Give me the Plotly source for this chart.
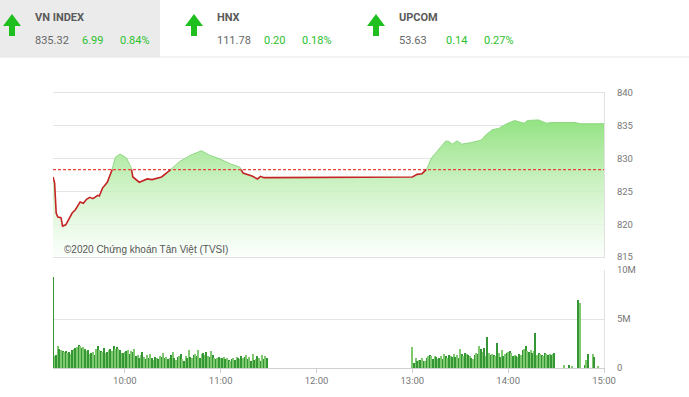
import pandas as pd
import plotly.graph_objects as go

# ---------------- data ----------------
DAY = "2020-05-20 "
REF = 828.33  # previous close

price_times = ["09:15", "09:16", "09:17", "09:18", "09:20", "09:21", "09:23", "09:25", "09:27", "09:29",
               "09:32", "09:34", "09:36", "09:38", "09:40", "09:43", "09:44", "09:46",
               "09:49", "09:52", "09:54", "09:57", "10:01", "10:04", "10:05", "10:09", "10:14", "10:17", "10:20",
               "10:23", "10:26", "10:30", "10:34", "10:41", "10:48", "10:53", "10:59", "11:06", "11:12", "11:14",
               "11:20", "11:23", "11:25", "11:27", "11:30", "13:00", "13:03", "13:06", "13:09", "13:12", "13:15",
               "13:18", "13:21", "13:23", "13:25", "13:28", "13:31", "13:36", "13:40", "13:43", "13:46",
               "13:50", "13:54", "13:59", "14:04", "14:07", "14:10", "14:12", "14:19", "14:24", "14:27",
               "14:42", "14:45", "15:00"]
price_values = [827.2, 826.3, 821.7, 821.1, 821.0, 819.7, 819.9, 820.8, 821.7, 822.2,
                823.4, 823.2, 823.8, 824.1, 823.9, 824.4, 824.3, 825.5,
                826.4, 828.3, 830.2, 830.7, 830.1, 828.6, 827.2, 826.4, 826.9, 826.8, 827.0,
                827.2, 827.8, 828.6, 829.5, 830.5, 831.2, 830.5, 830.0, 829.2, 828.7, 827.8,
                827.3, 826.9, 827.3, 827.1, 827.1, 827.2, 827.6, 827.7, 828.4, 830.1, 831.0,
                831.8, 832.7, 832.6, 832.2, 832.7, 832.2, 832.4, 832.6, 832.8, 833.6,
                834.4, 834.6, 835.3, 835.8, 835.6, 835.4, 835.8, 835.9, 835.4, 835.5,
                835.5, 835.32, 835.32]

# morning volume, one bar per minute from 09:15 (millions of shares)
vol_morning = [9.3, 1.2, 1.3, 2.2, 1.9, 1.8, 1.7, 1.6, 1.7, 1.5,
               1.6, 1.4, 1.8, 1.9, 2.0, 2.1, 2.3, 2.2, 2.0, 2.1,
               1.9, 1.7, 1.8, 1.4, 1.5, 1.6, 1.3, 1.9, 2.2, 1.8,
               1.7, 1.6, 2.0, 1.5, 1.6, 1.8, 1.9, 1.7, 2.2, 1.9,
               2.1, 1.9, 1.8, 1.5, 1.5, 1.6, 1.7, 1.8, 1.4, 1.7,
               1.6, 1.9, 1.2, 1.3, 1.0, 1.3, 1.6, 1.1, 0.9, 1.3,
               1.0, 1.4, 1.0, 0.8, 1.1, 1.0, 0.9, 1.2, 1.1, 1.5,
               1.0, 1.1, 0.9, 1.0, 1.3, 1.6, 1.0, 0.8, 1.1, 1.2,
               1.4, 0.9, 0.7, 1.2, 1.0, 1.8, 1.1, 1.0, 1.3, 1.4,
               1.2, 1.8, 1.0, 1.4, 1.5, 1.3, 1.6, 1.2, 1.1, 1.7,
               1.3, 1.0, 0.9, 1.0, 1.1, 1.0, 1.0, 1.1, 0.9, 1.0,
               0.8, 0.7, 0.9, 1.0, 0.8, 1.1, 1.0, 0.9, 1.2, 1.0,
               1.1, 1.3, 0.9, 1.1, 0.7, 1.4, 0.8, 0.9, 1.2, 1.0,
               0.7, 1.3, 0.9, 1.2, 1.0]
# afternoon volume, one bar per minute from 13:00
vol_afternoon = [2.1, 0.5, 1.0, 0.7, 0.8, 0.8, 1.0, 0.7, 0.7, 1.0,
                 1.2, 1.3, 1.2, 0.9, 1.2, 1.1, 0.9, 1.0, 1.2, 0.9,
                 1.4, 1.2, 1.0, 1.3, 1.2, 1.1, 1.4, 1.1, 1.3, 1.0,
                 1.9, 1.4, 1.2, 1.5, 1.4, 1.3, 1.2, 1.0, 0.9, 1.3,
                 1.5, 1.4, 2.2, 1.9, 1.6, 2.0, 1.2, 3.2, 1.5, 1.3,
                 1.4, 1.3, 1.2, 2.6, 1.5, 1.1, 1.8, 1.2, 1.4, 1.5,
                 1.6, 1.7, 1.5, 1.2, 1.3, 1.2, 1.1, 1.4, 1.3, 1.8,
                 1.9, 2.2, 1.7, 1.6, 1.8, 1.5, 1.7, 3.6, 1.3, 1.5,
                 1.4, 1.3, 1.2, 1.5, 1.4, 1.3, 1.4, 1.3, 1.4, 1.5]
# closing session (sparse)
vol_close_times = ["14:35", "14:38", "14:40", "14:44", "14:45", "14:48", "14:49", "14:50", "14:53", "14:54", "14:56"]
vol_close_values = [0.3, 0.3, 0.2, 6.9, 6.6, 0.3, 0.8, 1.4, 1.4, 1.1, 0.2]

x_ticks = ["10:00", "11:00", "12:00", "13:00", "14:00", "15:00"]
y_price_ticks = [815, 820, 825, 830, 835, 840]
y_vol_ticks = [0, 5, 10]
y_vol_labels = ["0", "5M", "10M"]

header = [
    ("VN INDEX", "835.32", "6.99", "0.84%"),
    ("HNX", "111.78", "0.20", "0.18%"),
    ("UPCOM", "53.63", "0.14", "0.27%"),
]

# ---------------- prep ----------------
def T(s):
    return pd.Timestamp(DAY + s)

pt = [T(s) for s in price_times]
# insert crossing points with the reference level so the line can change colour there
xs, ys = [pt[0]], [price_values[0]]
for i in range(1, len(pt)):
    p0, p1 = price_values[i - 1], price_values[i]
    if (p0 - REF) * (p1 - REF) < 0:
        f = (REF - p0) / (p1 - p0)
        xs.append(pt[i - 1] + (pt[i] - pt[i - 1]) * f)
        ys.append(REF)
    xs.append(pt[i])
    ys.append(price_values[i])
below = [y if y <= REF + 1e-9 else None for y in ys]
above = [y if y >= REF - 1e-9 else None for y in ys]

vt = list(pd.date_range(T("09:15"), periods=len(vol_morning), freq="min")) + \
     list(pd.date_range(T("13:00"), periods=len(vol_afternoon), freq="min")) + \
     [T(s) for s in vol_close_times]
vv = [v * 1e6 for v in vol_morning + vol_afternoon + vol_close_values]
bar_colors = ["#349634" if i % 2 == 0 else "#7ec970" for i in range(len(vv))]

# ---------------- figure ----------------
W, H = 689, 397
L, R, TOP, BOT = 53, 604, 93, 368
def px(x):
    return (x - L) / (R - L)
def py(y):
    return (BOT - y) / (BOT - TOP)

fig = go.Figure()
fig.add_trace(go.Scatter(
    x=xs, y=ys, mode="lines", line=dict(width=0), fill="tozeroy",
    fillgradient=dict(type="vertical", start=815, stop=837,
                      colorscale=[[0, "rgba(250,255,250,0.7)"], [0.5, "rgba(198,240,188,0.88)"],
                                  [1, "rgba(136,224,118,0.97)"]]),
    hoverinfo="skip", showlegend=False, xaxis="x", yaxis="y"))
fig.add_trace(go.Scatter(x=[T("09:15"), T("15:00")], y=[REF, REF], mode="lines",
                         line=dict(color="#e8423a", width=1.2, dash="3px,2px"),
                         showlegend=False, xaxis="x", yaxis="y"))
fig.add_trace(go.Scatter(x=xs, y=above, mode="lines", line=dict(color="#8fd882", width=1),
                         connectgaps=False, showlegend=False, xaxis="x", yaxis="y"))
fig.add_trace(go.Scatter(x=xs, y=below, mode="lines", line=dict(color="#c42424", width=1.6),
                         connectgaps=False, showlegend=False, xaxis="x", yaxis="y"))
fig.add_trace(go.Bar(x=vt, y=vv, width=60000 * 0.65, marker=dict(color=bar_colors, line=dict(width=0)),
                     showlegend=False, xaxis="x2", yaxis="y2"))

xr = [T("09:15"), T("15:00")]
tickfont = dict(family="Roboto, Liberation Sans, sans-serif", size=9.5, color="#777")
fig.update_layout(
    width=W, height=H, autosize=False,
    margin=dict(l=L, r=W - R, t=TOP, b=H - BOT),
    paper_bgcolor="white", plot_bgcolor="white",
    bargap=0,
    xaxis=dict(domain=[0, 1], anchor="y", range=xr, showticklabels=False, showgrid=False,
               showline=True, mirror=True, linecolor="#e2e2e2", zeroline=False, ticks=""),
    yaxis=dict(domain=[py(257), 1], side="right", range=[815, 840], tickvals=y_price_ticks,
               showgrid=True, gridcolor="#e4e4e4", zeroline=False, showline=True, linecolor="#e2e2e2",
               ticks="outside", ticklen=10, tickcolor="rgba(0,0,0,0)", tickfont=tickfont),
    xaxis2=dict(domain=[0, 1], anchor="y2", range=xr, tickvals=[T(s) for s in x_ticks], ticktext=x_ticks,
                showgrid=False, showline=True, linecolor="#d0d0d0", zeroline=False,
                ticks="outside", ticklen=4, tickcolor="#d0d0d0", tickfont=tickfont),
    yaxis2=dict(domain=[0, py(270)], side="right", range=[0, 10e6],
                tickvals=[v * 1e6 for v in y_vol_ticks], ticktext=y_vol_labels,
                showgrid=True, gridcolor="#e4e4e4", zeroline=False, showline=True, linecolor="#e2e2e2",
                ticks="outside", ticklen=10, tickcolor="rgba(0,0,0,0)", tickfont=tickfont),
)

# header
shapes = [
    dict(type="rect", xref="paper", yref="paper", x0=px(0), x1=px(160), y0=py(57), y1=py(0),
         fillcolor="#ebebeb", line=dict(width=0), layer="below"),
    dict(type="line", xref="paper", yref="paper", x0=px(0), x1=px(689), y0=py(57), y1=py(57),
         line=dict(color="#e6e6e6", width=1)),
]
hfont = "Roboto, Liberation Sans, sans-serif"
annos = []
for k, (name, val, chg, pct) in enumerate(header):
    ox = [0, 182, 364][k]
    ax = ox + 12
    pts = [(ax - 9, 26), (ax, 14), (ax + 9, 26), (ax + 3, 26), (ax + 3, 36), (ax - 3, 36), (ax - 3, 26)]
    path = "M " + " L ".join(f"{px(a)},{py(b)}" for a, b in pts) + " Z"
    shapes.append(dict(type="path", xref="paper", yref="paper", path=path,
                       fillcolor="#1fbf1f", line=dict(width=0)))
    annos.append(dict(text=f"<b>{name}</b>", x=px(ox + 33), y=py(17), xref="paper", yref="paper",
                      xanchor="left", yanchor="middle", showarrow=False,
                      font=dict(family=hfont, size=11, color="#5a5a5a")))
    annos.append(dict(text=val, x=px(ox + 33), y=py(41), xref="paper", yref="paper",
                      xanchor="left", yanchor="middle", showarrow=False,
                      font=dict(family=hfont, size=11, color="#666")))
    annos.append(dict(text=chg, x=px(ox + 80), y=py(41), xref="paper", yref="paper",
                      xanchor="left", yanchor="middle", showarrow=False,
                      font=dict(family=hfont, size=11, color="#2bc12b")))
    annos.append(dict(text=pct, x=px(ox + 152), y=py(41), xref="paper", yref="paper",
                      xanchor="right", yanchor="middle", showarrow=False,
                      font=dict(family=hfont, size=11, color="#2bc12b")))

annos.append(dict(text="©2020 Chứng khoán Tân Việt (TVSI)", x=px(62), y=py(249), xref="paper", yref="paper",
                  xanchor="left", yanchor="middle", showarrow=False,
                  font=dict(family="Liberation Sans, Arial, sans-serif", size=10, color="#555")))
fig.update_layout(shapes=shapes, annotations=annos)

fig.write_html("out.html", config={"displayModeBar": False},
               post_script="document.body.style.margin='0';")
